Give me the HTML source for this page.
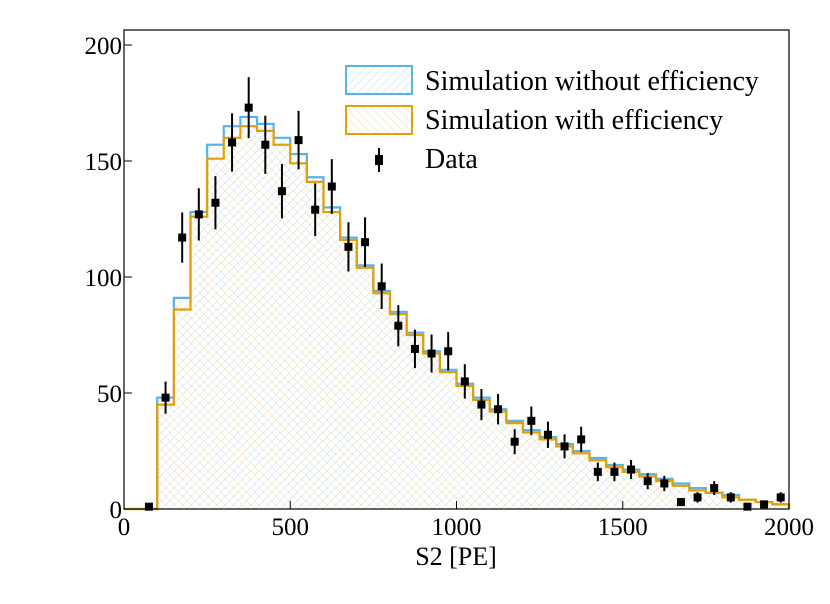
<!DOCTYPE html>
<html><head><meta charset="utf-8"><style>
html,body{margin:0;padding:0;background:#fff;}
svg text{font-family:"Liberation Serif",serif;fill:#000;}
</style></head><body>
<svg id="chart" width="830" height="599" xmlns="http://www.w3.org/2000/svg">
<defs>
<pattern id="hb" width="6" height="6" patternUnits="userSpaceOnUse" patternTransform="rotate(45)"><line x1="0" y1="0" x2="0" y2="6" stroke="#b8dcf2" stroke-width="1"/></pattern>
<pattern id="ho" width="6" height="6" patternUnits="userSpaceOnUse" patternTransform="rotate(-45)"><line x1="0" y1="0" x2="0" y2="6" stroke="#f5d9a0" stroke-width="1"/></pattern>
</defs>
<g id="plot"></g>
<rect x="124" y="30" width="665" height="479" fill="none" stroke="#000" stroke-width="1.2"/>
<g id="axes"></g>
<text x="456" y="565" font-size="26" text-anchor="middle">S2 [PE]</text>
<g>
<rect x="346" y="66" width="66" height="28" fill="url(#hb)" stroke="#56b4e9" stroke-width="2"/>
<text x="425" y="90" font-size="28">Simulation without efficiency</text>
<rect x="346" y="106" width="66" height="28" fill="url(#ho)" stroke="#e69f00" stroke-width="2"/>
<text x="425" y="129" font-size="28">Simulation with efficiency</text>
<line x1="379" y1="148" x2="379" y2="172" stroke="#000" stroke-width="2"/>
<rect x="375" y="155" width="8" height="10" fill="#000"/>
<text x="425" y="168" font-size="28">Data</text>
</g>
</svg>
<script>
const binWidth = 50;
const simNoEff = [0,0,48,91,128,157,165,169,166,160,153,143,130,117,105,94,85,76,68,60,54,48,43,38,34,31,28,25,22,19,17,15,13,11,9,7,6,4,3,2];
const simEff   = [0,0,45,86,126,151,160,165,163,157,149,141,128,116,104,93,84,75,67,59,53,47,42,37,33,30,27,24,21,18,16,14,12,10,8,7,5,4,3,2];
const dataX = [75,125,175,225,275,325,375,425,475,525,575,625,675,725,775,825,875,925,975,1025,1075,1125,1175,1225,1275,1325,1375,1425,1475,1525,1575,1625,1675,1725,1775,1825,1875,1925,1975];
const dataY = [1,48,117,127,132,158,173,157,137,159,129,139,113,115,96,79,69,67,68,55,45,43,29,38,32,27,30,16,16,17,12,11,3,5,9,5,1,2,5];
const xTicks = [0,500,1000,1500,2000];
const yTicks = [0,50,100,150,200];
const X0=124,X1=789,Y0=509,YT=45;
const xs=v=>X0+(v/2000)*(X1-X0);
const ys=v=>Y0-(v/200)*(Y0-YT);
const NS='http://www.w3.org/2000/svg';
const plot=document.getElementById('plot'), axes=document.getElementById('axes');
function mk(t,a,p){const e=document.createElementNS(NS,t);for(const k in a)e.setAttribute(k,a[k]);p.appendChild(e);return e;}
function stepPath(vals){let d='M'+xs(0)+','+ys(0);vals.forEach((v,i)=>{d+=' L'+xs(i*binWidth)+','+ys(v)+' L'+xs((i+1)*binWidth)+','+ys(v);});d+=' L'+xs(vals.length*binWidth)+','+ys(0);return d;}
let p=mk('path',{d:stepPath(simNoEff)+' Z',fill:'url(#hb)',stroke:'none'},plot);


p=mk('path',{d:stepPath(simEff)+' Z',fill:'url(#ho)',stroke:'none'},plot);


p=mk('path',{d:stepPath(simNoEff),fill:'none',stroke:'#56b4e9','stroke-width':2.2},plot);


p=mk('path',{d:stepPath(simEff),fill:'none',stroke:'#e69f00','stroke-width':2.2},plot);


dataX.forEach((x,i)=>{const v=dataY[i],e=Math.sqrt(v);
 const l=mk('line',{x1:xs(x),x2:xs(x),y1:ys(v+e),y2:ys(Math.max(0,v-e)),stroke:'#000','stroke-width':2},plot);
 
 
 const r=mk('rect',{x:xs(x)-4,y:ys(v)-4,width:8,height:8,fill:'#000'},plot);
 
 
});
xTicks.forEach(t=>{
 const l=mk('line',{x1:xs(t),x2:xs(t),y1:Y0,y2:Y0-8,stroke:'#000','stroke-width':1},axes);
 
 
 const tx=mk('text',{x:xs(t),y:Y0+26,'font-size':25,'text-anchor':'middle'},axes);tx.textContent=t;
 
 
});
yTicks.forEach(t=>{
 const l=mk('line',{x1:X0,x2:X0+8,y1:ys(t),y2:ys(t),stroke:'#000','stroke-width':1},axes);
 
 
 const tx=mk('text',{x:X0-2,y:ys(t)+9,'font-size':25,'text-anchor':'end'},axes);tx.textContent=t;
 
 
});
</script>
</body></html>
